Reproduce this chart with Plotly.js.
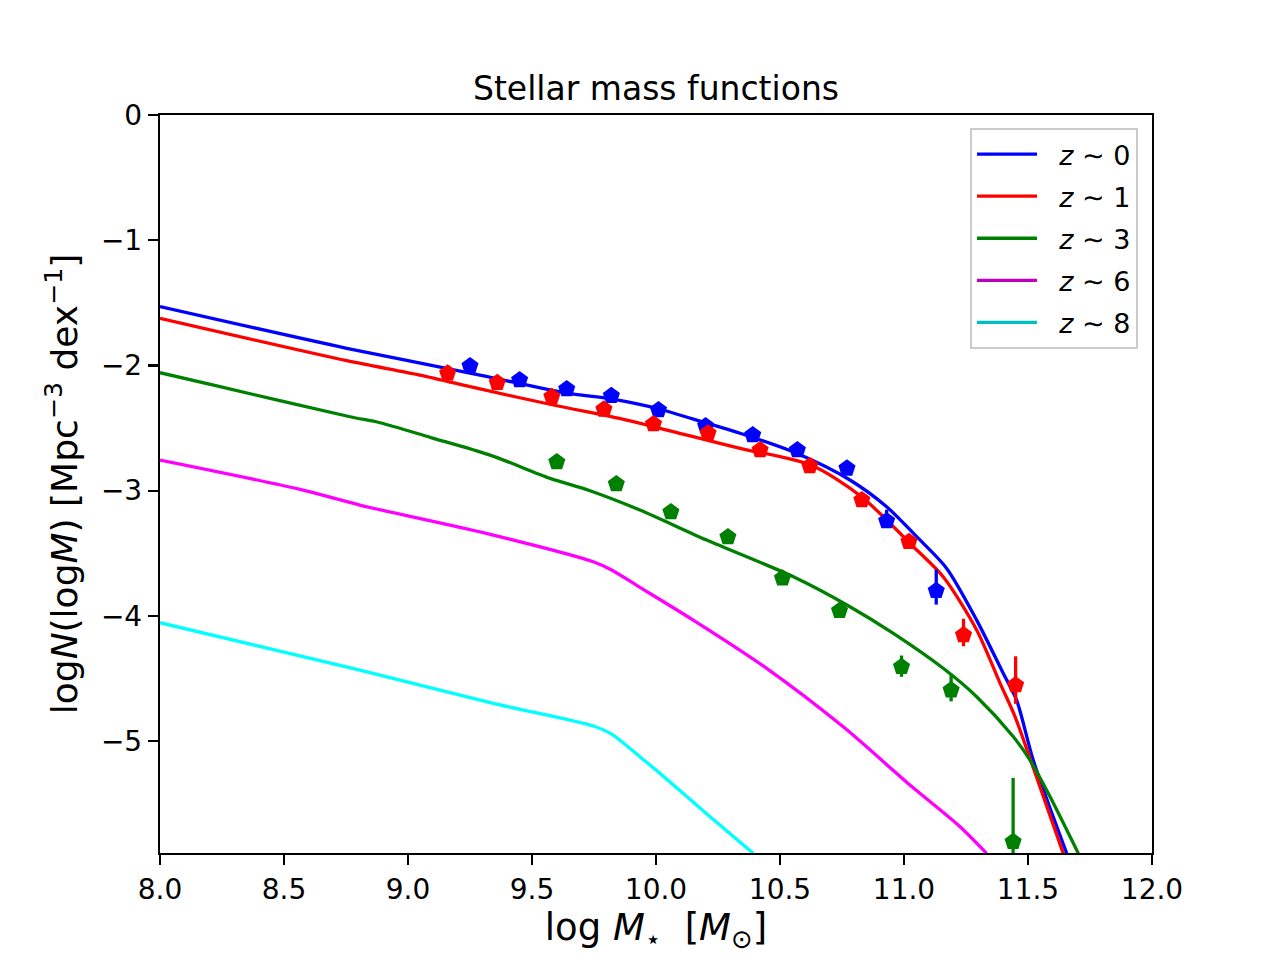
<!DOCTYPE html>
<html>
<head>
<meta charset="utf-8">
<script src="https://cdn.plot.ly/plotly-3.0.1.min.js"></script>
<style>
  body { margin: 0; background: #fff; }
  #plot { width: 1280px; height: 960px; }
</style>
</head>
<body>
<div id="plot"></div>
<script>
// model curves
var z0LineX = [8.000, 8.753, 9.290, 9.636, 9.819, 10.012, 10.202, 10.339, 10.567, 10.782, 10.930, 11.051, 11.172, 11.293, 11.400, 11.454, 11.521, 11.656];
var z0LineY = [-1.530, -1.863, -2.077, -2.220, -2.268, -2.348, -2.460, -2.542, -2.702, -2.915, -3.129, -3.368, -3.621, -4.034, -4.459, -4.673, -5.152, -5.897];

var z1LineX = [8.000, 8.753, 9.048, 9.290, 9.586, 9.882, 10.150, 10.339, 10.624, 10.825, 11.038, 11.158, 11.293, 11.387, 11.448, 11.501, 11.642];
var z1LineY = [-1.624, -1.962, -2.077, -2.188, -2.316, -2.436, -2.569, -2.662, -2.796, -3.043, -3.448, -3.688, -4.113, -4.537, -4.806, -5.098, -5.897];

var z3LineX = [8.000, 8.242, 8.766, 8.887, 9.089, 9.331, 9.573, 9.734, 9.935, 10.204, 10.554, 10.782, 10.957, 11.158, 11.293, 11.441, 11.508, 11.589, 11.703];
var z3LineY = [-2.058, -2.170, -2.410, -2.458, -2.574, -2.716, -2.902, -3.001, -3.155, -3.395, -3.688, -3.927, -4.140, -4.419, -4.646, -4.966, -5.152, -5.445, -5.897];

var z6LineX = [8.000, 8.565, 8.806, 9.344, 9.747, 9.821, 9.935, 10.150, 10.446, 10.755, 11.024, 11.226, 11.333];
var z6LineY = [-2.756, -2.990, -3.115, -3.355, -3.568, -3.634, -3.772, -4.034, -4.419, -4.886, -5.351, -5.684, -5.897];

var z8LineX = [8.000, 8.806, 9.344, 9.747, 9.821, 9.935, 10.016, 10.218, 10.392];
var z8LineY = [-4.055, -4.433, -4.699, -4.880, -4.944, -5.125, -5.258, -5.605, -5.897];

// observed points with error bars
var z0ObsX  = [9.25, 9.45, 9.64, 9.82, 10.01, 10.20, 10.39, 10.57, 10.77, 10.93, 11.13];
var z0ObsY  = [-2.005, -2.117, -2.188, -2.242, -2.356, -2.484, -2.556, -2.676, -2.822, -3.243, -3.800];
var z0ErrUp = [0.03, 0.03, 0.03, 0.03, 0.03, 0.03, 0.03, 0.03, 0.04, 0.09, 0.17];
var z0ErrDn = [0.03, 0.03, 0.03, 0.03, 0.03, 0.03, 0.03, 0.03, 0.04, 0.05, 0.11];

var z1ObsX  = [9.16, 9.36, 9.58, 9.79, 9.99, 10.21, 10.42, 10.62, 10.83, 11.02, 11.24, 11.45];
var z1ObsY  = [-2.063, -2.138, -2.250, -2.351, -2.468, -2.542, -2.676, -2.804, -3.075, -3.408, -4.153, -4.553];
var z1ErrUp = [0.03, 0.03, 0.03, 0.03, 0.03, 0.03, 0.03, 0.03, 0.04, 0.05, 0.13, 0.23];
var z1ErrDn = [0.03, 0.03, 0.03, 0.03, 0.03, 0.03, 0.03, 0.03, 0.04, 0.04, 0.09, 0.15];

var z3ObsX  = [9.60, 9.84, 10.06, 10.29, 10.51, 10.74, 10.99, 11.19, 11.44];
var z3ObsY  = [-2.772, -2.947, -3.171, -3.371, -3.700, -3.959, -4.407, -4.593, -5.804];
var z3ErrUp = [0.03, 0.03, 0.03, 0.04, 0.04, 0.05, 0.09, 0.13, 0.51];
var z3ErrDn = [0.03, 0.03, 0.03, 0.04, 0.04, 0.05, 0.08, 0.09, 0.50];

var legendLabels = ['<i>z</i> ∼ 0', '<i>z</i> ∼ 1', '<i>z</i> ∼ 3', '<i>z</i> ∼ 6', '<i>z</i> ∼ 8'];
var xTicks = [8.0, 8.5, 9.0, 9.5, 10.0, 10.5, 11.0, 11.5, 12.0];
var yTicks = [0, -1, -2, -3, -4, -5];

var FONT = 'DejaVu Sans, sans-serif';

// curves in the plot are bright, legend handles use the darker 'm' / 'c'
function curve(x, y, color) {
    return { x: x, y: y, mode: 'lines', type: 'scatter', showlegend: false,
             line: { color: color, width: 3.3, shape: 'spline', smoothing: 0.8 },
             hoverinfo: 'skip' };
}

function obs(x, y, up, dn, color) {
    return { x: x, y: y, mode: 'markers', type: 'scatter', showlegend: false,
             marker: { symbol: 'pentagon', size: 18, color: color },
             error_y: { type: 'data', array: up, arrayminus: dn, symmetric: false,
                        color: color, thickness: 3.3, width: 0 } };
}

// a little gap between the handle and the text, as in the reference
function legendItem(name, color, i) {
    return { x: [null], y: [null], mode: 'lines', type: 'scatter',
             name: '\u00a0\u00a0' + name,
             legendgroup: 'g' + i, line: { color: color, width: 3.3 } };
}

var data = [
    curve(z0LineX, z0LineY, '#0000ff'),
    curve(z1LineX, z1LineY, '#ff0000'),
    curve(z3LineX, z3LineY, '#008000'),
    curve(z6LineX, z6LineY, '#ff00ff'),
    curve(z8LineX, z8LineY, '#00ffff'),
    obs(z0ObsX, z0ObsY, z0ErrUp, z0ErrDn, '#0000ff'),
    obs(z1ObsX, z1ObsY, z1ErrUp, z1ErrDn, '#ff0000'),
    obs(z3ObsX, z3ObsY, z3ErrUp, z3ErrDn, '#008000'),
    legendItem(legendLabels[0], '#0000ff', 0),
    legendItem(legendLabels[1], '#ff0000', 1),
    legendItem(legendLabels[2], '#008000', 2),
    legendItem(legendLabels[3], '#bf00bf', 3),
    legendItem(legendLabels[4], '#00bfbf', 4)
];

var layout = {
    width: 1280,
    height: 960,
    margin: { l: 160, r: 128, t: 115, b: 107, pad: 0 },
    paper_bgcolor: '#fff',
    plot_bgcolor: '#fff',
    font: { family: FONT, size: 28, color: '#000' },
    title: { text: 'Stellar mass functions', font: { family: FONT, size: 33, color: '#000' },
             x: 0.5, xref: 'paper', y: 0.908, yref: 'container', yanchor: 'middle' },
    xaxis: {
        range: [8, 12], tickvals: xTicks, tickformat: '.1f',
        showgrid: false, zeroline: false,
        showline: true, mirror: true, linecolor: '#000', linewidth: 2.2,
        ticks: 'outside', ticklen: 10, tickwidth: 2.2, tickcolor: '#000',
        tickfont: { family: FONT, size: 28 },
        title: { text: 'log <i>M</i><sub>⋆</sub>  [<i>M</i><sub>⊙</sub>]',
                 font: { family: FONT, size: 37 }, standoff: 8 }
    },
    yaxis: {
        range: [-5.894, 0], tickvals: yTicks,
        showgrid: false, zeroline: false,
        showline: true, mirror: true, linecolor: '#000', linewidth: 2.2,
        ticks: 'outside', ticklen: 10, tickwidth: 2.2, tickcolor: '#000',
        tickfont: { family: FONT, size: 28 },
        title: { text: 'log<i>N</i>(log<i>M</i>) [Mpc<sup>−3</sup> dex<sup>−1</sup>]',
                 font: { family: FONT, size: 36 }, standoff: 12 }
    },
    legend: {
        x: 0.9859, xanchor: 'right', y: 0.9824, yanchor: 'top',
        bgcolor: 'rgba(255,255,255,0.8)', bordercolor: '#cccccc', borderwidth: 2,
        font: { family: FONT, size: 27 }, itemwidth: 60, tracegroupgap: 4,
        traceorder: 'grouped'
    },
    showlegend: true
};

Plotly.newPlot('plot', data, layout, { staticPlot: true });
</script>
</body>
</html>
